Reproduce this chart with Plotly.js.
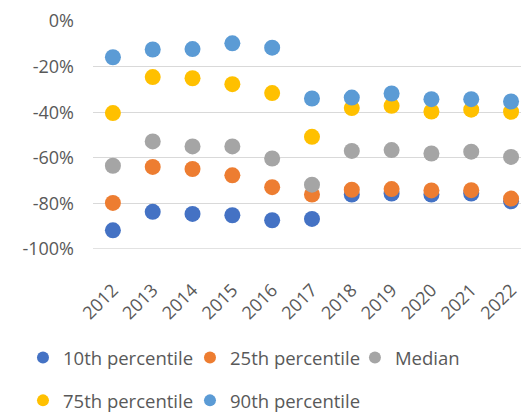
<!DOCTYPE html>
<html><head><meta charset="utf-8">
<script src="https://cdn.plot.ly/plotly-3.0.1.min.js"></script>
<style>html,body{margin:0;padding:0;background:#fff}#chart{width:521px;height:412px}</style>
</head><body><div id="chart"></div>
<script>
const years = ['2012','2013','2014','2015','2016','2017','2018','2019','2020','2021','2022'];
const p10 = [-91.8,-83.7,-84.6,-85.2,-87.4,-86.8,-76.1,-75.7,-76.1,-75.7,-79.1];
const p25 = [-79.8,-64.0,-64.9,-67.7,-72.9,-76.1,-74.0,-73.7,-74.3,-74.2,-77.9];
const median = [-63.5,-52.8,-55.0,-55.0,-60.3,-71.8,-57.0,-56.6,-58.1,-57.3,-59.6];
const p75 = [-40.4,-24.6,-25.1,-27.7,-31.6,-50.8,-38.2,-37.2,-39.7,-38.9,-39.8];
const p90 = [-15.9,-12.5,-12.3,-9.8,-11.7,-34.0,-33.6,-31.8,-34.3,-34.3,-35.3];
const seriesNames = ['10th percentile','25th percentile','Median','75th percentile','90th percentile'];
const yTickVals = [0,-20,-40,-60,-80,-100];
const yTickLabels = ['0%','-20%','-40%','-60%','-80%','-100%'];
const colors = ['#4472C4','#ED7D31','#A5A5A5','#FFC000','#5B9BD5'];
const values = [p10,p25,median,p75,p90];
const legendIds = ['legend','legend2','legend3','legend4','legend5'];
const FONT = '"Open Sans", "Noto Sans", sans-serif';
const traces = values.map((v,i)=>({
  type:'scatter', mode:'markers', x:years, y:v, name:seriesNames[i],
  marker:{color:colors[i], size:16},
  legend:legendIds[i], hoverinfo:'none'
}));
const legendCommon = {orientation:'h', xanchor:'left', yanchor:'middle', itemsizing:'constant',
  font:{family:FONT,size:18.5,color:'#595959'}, bgcolor:'rgba(0,0,0,0)', itemclick:false, tracegroupgap:0};
const layout = {
  width:521, height:412,
  margin:{l:93, r:0, t:21, b:163, pad:0, autoexpand:false},
  paper_bgcolor:'#fff', plot_bgcolor:'#fff',
  font:{family:FONT, color:'#595959', size:18},
  showlegend:true,
  xaxis:{type:'category', range:[-0.5,10.25], showgrid:false, zeroline:false, showline:false, automargin:false,
    tickangle:-45, ticks:'', ticklabelstandoff:26, tickfont:{family:FONT,size:18,color:'#595959'}},
  yaxis:{range:[-100,0], tickmode:'array', tickvals:yTickVals, ticktext:yTickLabels, showgrid:true, gridcolor:'#D9D9D9', gridwidth:1.3,
    zeroline:false, showline:false, automargin:false, ticks:'', ticklabelstandoff:18, tickfont:{family:FONT,size:18,color:'#595959'}},
  shapes:[{type:'line', xref:'paper', yref:'y', x0:0, x1:1, y0:-100, y1:-100, layer:'below', line:{color:'#D9D9D9', width:1.3}}],
  legend:Object.assign({x:-0.1636, y:-0.478}, legendCommon),
  legend2:Object.assign({x:0.2266, y:-0.478}, legendCommon),
  legend3:Object.assign({x:0.612, y:-0.478}, legendCommon),
  legend4:Object.assign({x:-0.1636, y:-0.666}, legendCommon),
  legend5:Object.assign({x:0.2266, y:-0.666}, legendCommon)
};
Plotly.newPlot('chart', traces, layout, {displayModeBar:false, staticPlot:true});
</script></body></html>
